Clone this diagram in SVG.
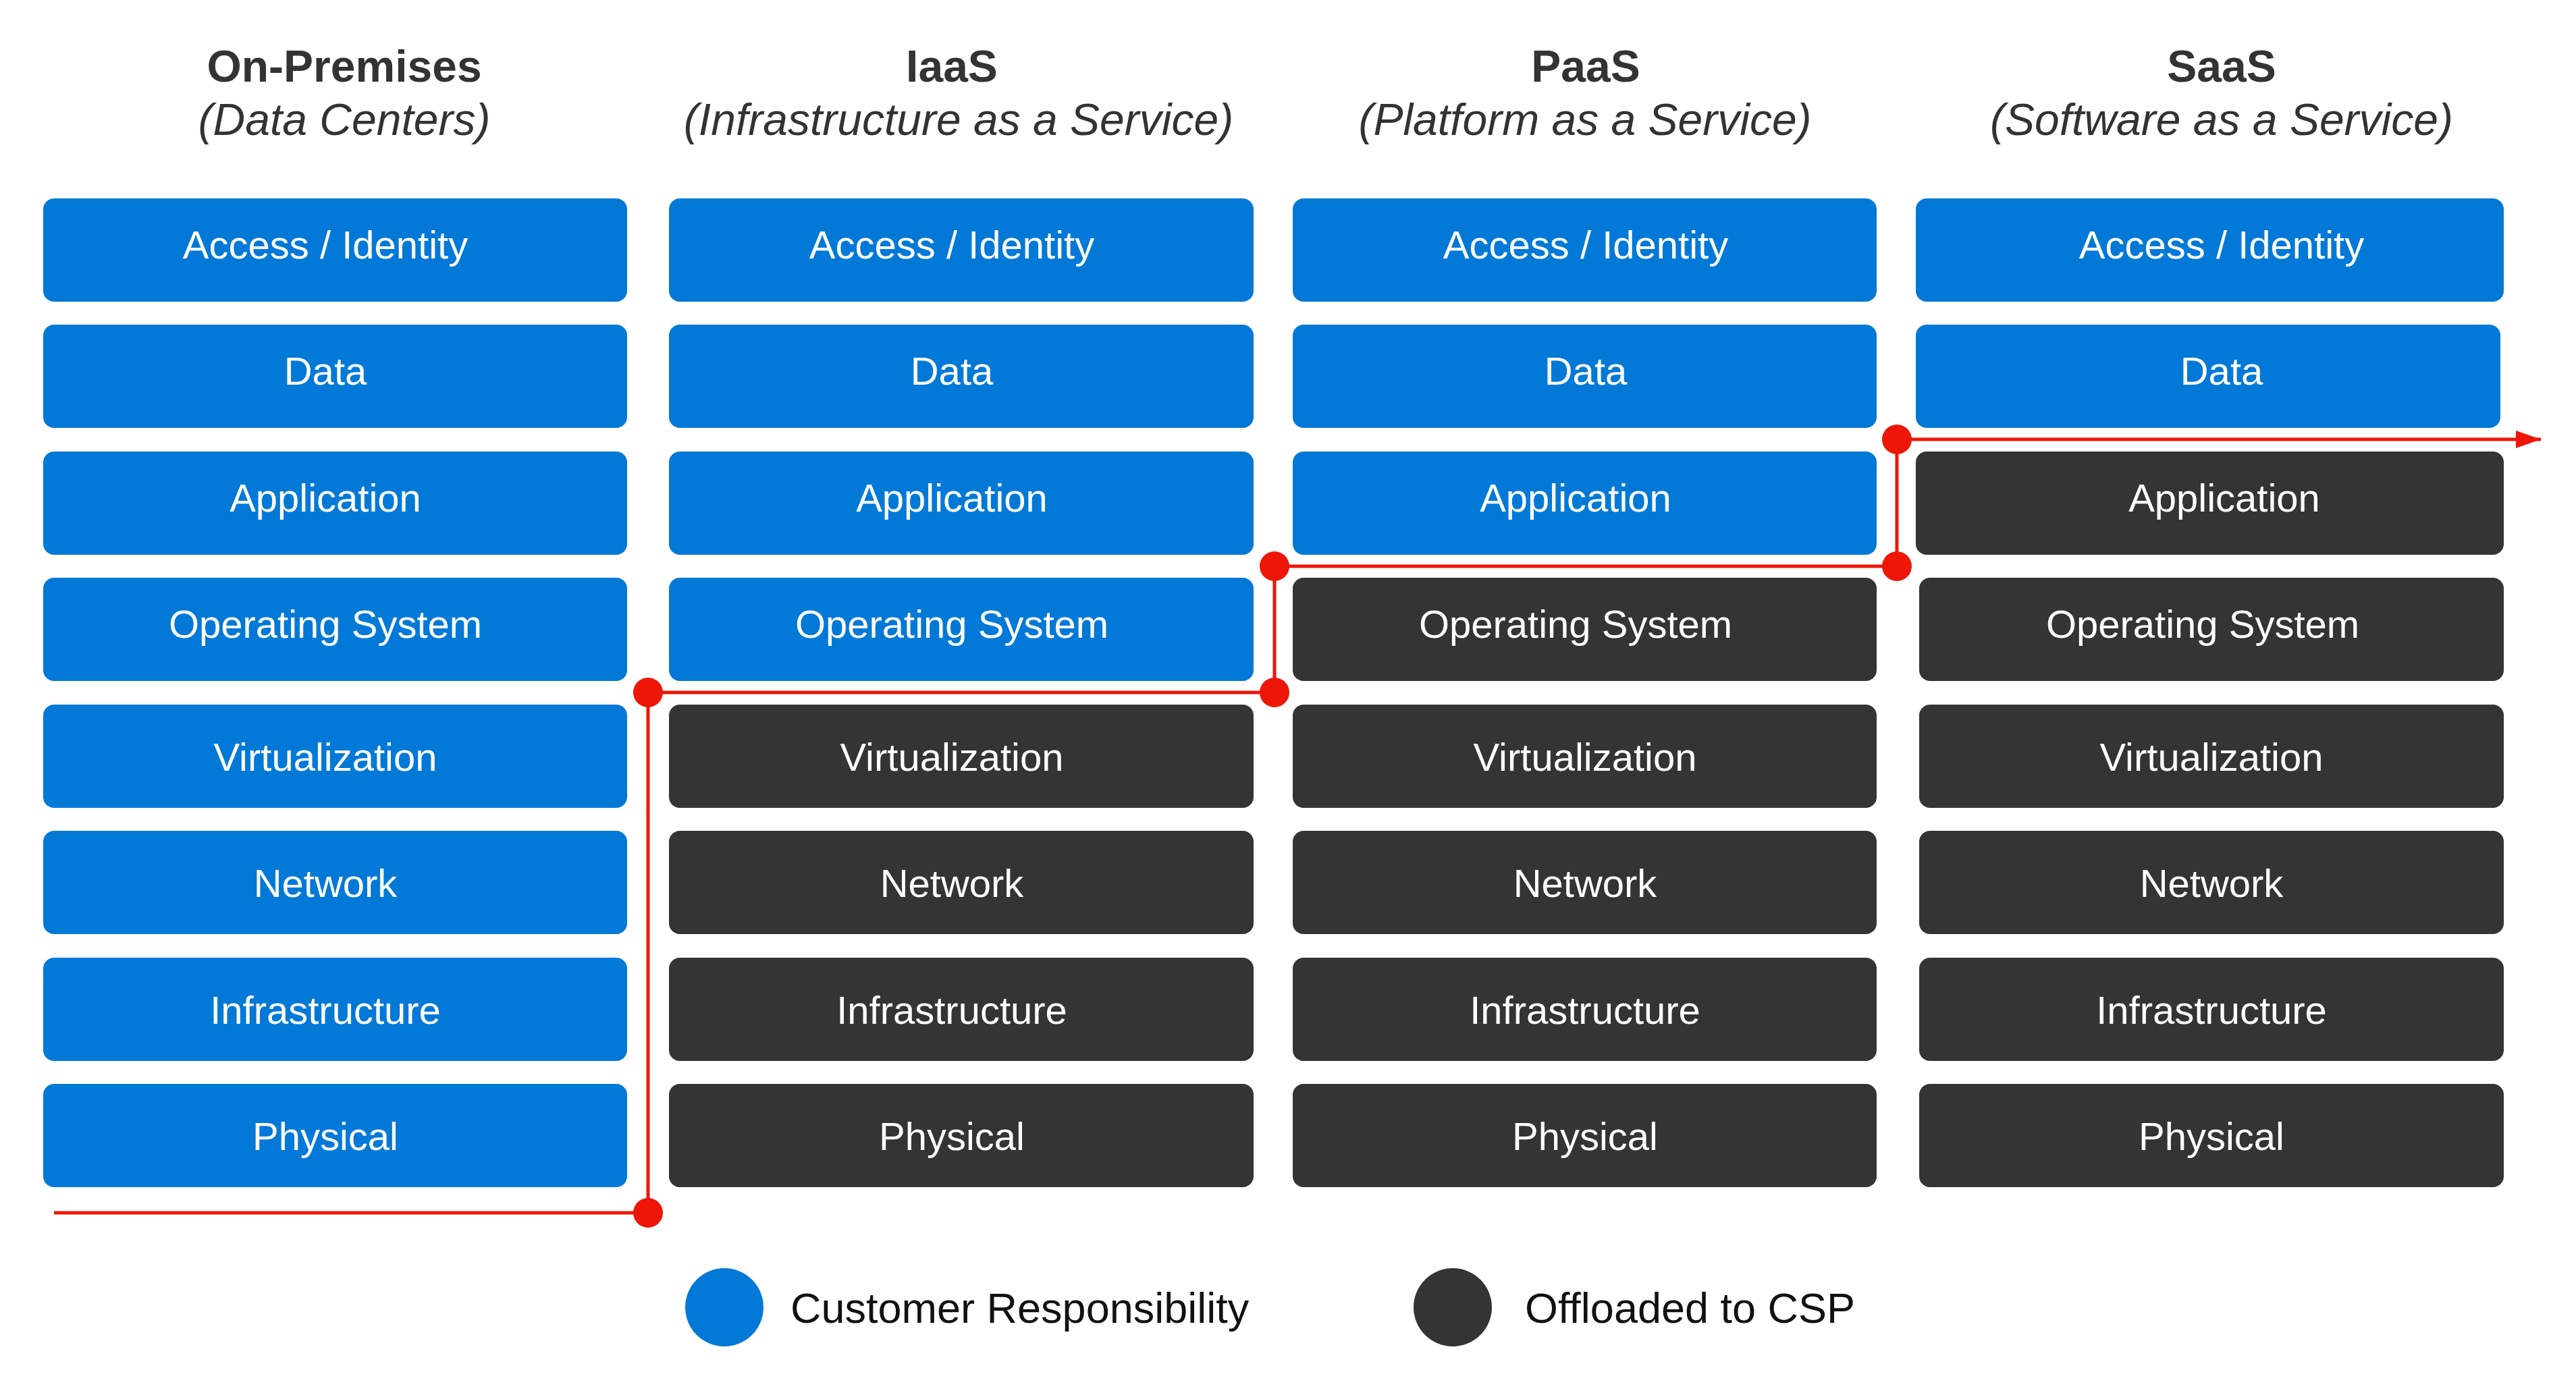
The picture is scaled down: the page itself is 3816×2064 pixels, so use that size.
<svg xmlns="http://www.w3.org/2000/svg" width="3816" height="2064" viewBox="0 0 3816 2064">
<defs>
<style>
.cust{fill:#0379D7}
.csp{fill:#343434}
.lbl{font-family:"Liberation Sans",Arial,sans-serif;font-size:58px;fill:#FFFFFF;text-anchor:middle}
.h1{font-family:"Liberation Sans",Arial,sans-serif;font-size:66px;font-weight:bold;fill:#333333;text-anchor:middle}
.h2{font-family:"Liberation Sans",Arial,sans-serif;font-size:66px;font-style:italic;fill:#333333;text-anchor:middle}
.leg{font-family:"Liberation Sans",Arial,sans-serif;font-size:63px;fill:#111111}
.line{fill:none;stroke:#EE1608;stroke-width:5}
.dot{fill:#EE1608}
</style>
<marker id="arrow" markerUnits="userSpaceOnUse" markerWidth="40" markerHeight="28" refX="37" refY="13" orient="auto">
<polygon points="0,0 37,13 0,26" fill="#EE1608"/>
</marker>
</defs>
<rect width="3816" height="2064" fill="#FFFFFF"/>

<g id="headers">
<text class="h1" x="510" y="121">On-Premises</text>
<text class="h2" x="510" y="200">(Data Centers)</text>
<text class="h1" x="1410" y="121">IaaS</text>
<text class="h2" x="1420" y="200">(Infrastructure as a Service)</text>
<text class="h1" x="2349" y="121">PaaS</text>
<text class="h2" x="2348" y="200">(Platform as a Service)</text>
<text class="h1" x="3291" y="121">SaaS</text>
<text class="h2" x="3291" y="200">(Software as a Service)</text>
</g>

<!-- On-Premises column -->
<g id="onprem-access"><rect class="cust" x="64" y="294" width="865" height="153" rx="16"/><text class="lbl" x="482" y="383">Access / Identity</text></g>
<g id="onprem-data"><rect class="cust" x="64" y="481" width="865" height="153" rx="16"/><text class="lbl" x="482" y="570">Data</text></g>
<g id="onprem-app"><rect class="cust" x="64" y="669" width="865" height="153" rx="16"/><text class="lbl" x="482" y="758">Application</text></g>
<g id="onprem-os"><rect class="cust" x="64" y="856" width="865" height="153" rx="16"/><text class="lbl" x="482" y="945">Operating System</text></g>
<g id="onprem-virt"><rect class="cust" x="64" y="1044" width="865" height="153" rx="16"/><text class="lbl" x="482" y="1142">Virtualization</text></g>
<g id="onprem-net"><rect class="cust" x="64" y="1231" width="865" height="153" rx="16"/><text class="lbl" x="482" y="1329">Network</text></g>
<g id="onprem-infra"><rect class="cust" x="64" y="1419" width="865" height="153" rx="16"/><text class="lbl" x="482" y="1517">Infrastructure</text></g>
<g id="onprem-phys"><rect class="cust" x="64" y="1606" width="865" height="153" rx="16"/><text class="lbl" x="482" y="1704">Physical</text></g>

<!-- IaaS column -->
<g id="iaas-access"><rect class="cust" x="991" y="294" width="866" height="153" rx="16"/><text class="lbl" x="1410" y="383">Access / Identity</text></g>
<g id="iaas-data"><rect class="cust" x="991" y="481" width="866" height="153" rx="16"/><text class="lbl" x="1410" y="570">Data</text></g>
<g id="iaas-app"><rect class="cust" x="991" y="669" width="866" height="153" rx="16"/><text class="lbl" x="1410" y="758">Application</text></g>
<g id="iaas-os"><rect class="cust" x="991" y="856" width="866" height="153" rx="16"/><text class="lbl" x="1410" y="945">Operating System</text></g>
<g id="iaas-virt"><rect class="csp" x="991" y="1044" width="866" height="153" rx="16"/><text class="lbl" x="1410" y="1142">Virtualization</text></g>
<g id="iaas-net"><rect class="csp" x="991" y="1231" width="866" height="153" rx="16"/><text class="lbl" x="1410" y="1329">Network</text></g>
<g id="iaas-infra"><rect class="csp" x="991" y="1419" width="866" height="153" rx="16"/><text class="lbl" x="1410" y="1517">Infrastructure</text></g>
<g id="iaas-phys"><rect class="csp" x="991" y="1606" width="866" height="153" rx="16"/><text class="lbl" x="1410" y="1704">Physical</text></g>

<!-- PaaS column -->
<g id="paas-access"><rect class="cust" x="1915" y="294" width="865" height="153" rx="16"/><text class="lbl" x="2349" y="383">Access / Identity</text></g>
<g id="paas-data"><rect class="cust" x="1915" y="481" width="865" height="153" rx="16"/><text class="lbl" x="2349" y="570">Data</text></g>
<g id="paas-app"><rect class="cust" x="1915" y="669" width="865" height="153" rx="16"/><text class="lbl" x="2334" y="758">Application</text></g>
<g id="paas-os"><rect class="csp" x="1915" y="856" width="865" height="153" rx="16"/><text class="lbl" x="2334" y="945">Operating System</text></g>
<g id="paas-virt"><rect class="csp" x="1915" y="1044" width="865" height="153" rx="16"/><text class="lbl" x="2348" y="1142">Virtualization</text></g>
<g id="paas-net"><rect class="csp" x="1915" y="1231" width="865" height="153" rx="16"/><text class="lbl" x="2348" y="1329">Network</text></g>
<g id="paas-infra"><rect class="csp" x="1915" y="1419" width="865" height="153" rx="16"/><text class="lbl" x="2348" y="1517">Infrastructure</text></g>
<g id="paas-phys"><rect class="csp" x="1915" y="1606" width="865" height="153" rx="16"/><text class="lbl" x="2348" y="1704">Physical</text></g>

<!-- SaaS column -->
<g id="saas-access"><rect class="cust" x="2838" y="294" width="871" height="153" rx="16"/><text class="lbl" x="3291" y="383">Access / Identity</text></g>
<g id="saas-data"><rect class="cust" x="2838" y="481" width="866" height="153" rx="16"/><text class="lbl" x="3291" y="570">Data</text></g>
<g id="saas-app"><rect class="csp" x="2838" y="669" width="871" height="153" rx="16"/><text class="lbl" x="3295" y="758">Application</text></g>
<g id="saas-os"><rect class="csp" x="2843" y="856" width="866" height="153" rx="16"/><text class="lbl" x="3263" y="945">Operating System</text></g>
<g id="saas-virt"><rect class="csp" x="2843" y="1044" width="866" height="153" rx="16"/><text class="lbl" x="3276" y="1142">Virtualization</text></g>
<g id="saas-net"><rect class="csp" x="2843" y="1231" width="866" height="153" rx="16"/><text class="lbl" x="3276" y="1329">Network</text></g>
<g id="saas-infra"><rect class="csp" x="2843" y="1419" width="866" height="153" rx="16"/><text class="lbl" x="3276" y="1517">Infrastructure</text></g>
<g id="saas-phys"><rect class="csp" x="2843" y="1606" width="866" height="153" rx="16"/><text class="lbl" x="3276" y="1704">Physical</text></g>

<!-- responsibility boundary -->
<g id="connectors">
<path class="line" d="M80 1797 H960 V1026 H1888 V839 H2810 V651 H3764" marker-end="url(#arrow)"/>
<circle class="dot" cx="960" cy="1797" r="22"/>
<circle class="dot" cx="960" cy="1026" r="22"/>
<circle class="dot" cx="1888" cy="1026" r="22"/>
<circle class="dot" cx="1888" cy="839" r="22"/>
<circle class="dot" cx="2810" cy="839" r="22"/>
<circle class="dot" cx="2810" cy="651" r="22"/>
</g>

<!-- legend -->
<g id="legend-customer">
<circle class="cust" cx="1073" cy="1937" r="58"/>
<text class="leg" x="1171" y="1960">Customer Responsibility</text>
</g>
<g id="legend-csp">
<circle class="csp" cx="2152" cy="1937" r="58"/>
<text class="leg" x="2259" y="1960">Offloaded to CSP</text>
</g>
</svg>
